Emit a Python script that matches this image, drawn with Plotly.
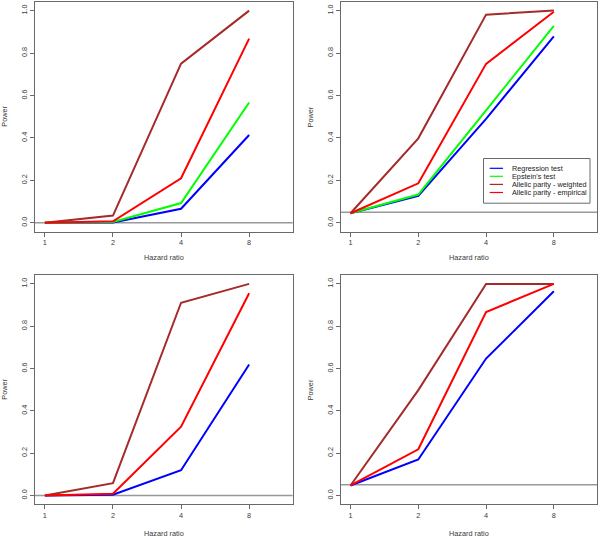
import plotly.graph_objects as go

# ---------------- data ----------------
hazard_ratio = [1, 2, 4, 8]
hazard_ticktext = ["1", "2", "4", "8"]
power_tickvals = [0.0, 0.2, 0.4, 0.6, 0.8, 1.0]
power_ticktext = ["0.0", "0.2", "0.4", "0.6", "0.8", "1.0"]

series_names = ["Regression test", "Epstein's test",
                "Allelic parity - weighted", "Allelic parity - empirical"]
series_colors = ["#0000FF", "#00FF00", "#A52A2A", "#FF0000"]

# panel A (top-left)
a_regression = [0.0, 0.001, 0.066, 0.414]
a_epstein = [0.0, 0.004, 0.093, 0.567]
a_ap_weighted = [0.0, 0.034, 0.750, 1.0]
a_ap_empirical = [0.0, 0.007, 0.210, 0.868]

# panel B (top-right)
b_regression = [0.045, 0.127, 0.490, 0.879]
b_epstein = [0.045, 0.133, 0.530, 0.928]
b_ap_weighted = [0.045, 0.398, 0.981, 1.0]
b_ap_empirical = [0.045, 0.186, 0.749, 0.995]

# panel C (bottom-left)
c_regression = [0.0, 0.003, 0.119, 0.619]
c_ap_weighted = [0.0, 0.058, 0.911, 1.0]
c_ap_empirical = [0.0, 0.008, 0.325, 0.956]

# panel D (bottom-right)
d_regression = [0.047, 0.170, 0.647, 0.965]
d_ap_weighted = [0.047, 0.498, 1.0, 1.0]
d_ap_empirical = [0.047, 0.218, 0.867, 1.0]

reference_levels = [0.0, 0.05, 0.0, 0.05]

panels = [
    [a_regression, a_epstein, a_ap_weighted, a_ap_empirical],
    [b_regression, b_epstein, b_ap_weighted, b_ap_empirical],
    [c_regression, None, c_ap_weighted, c_ap_empirical],
    [d_regression, None, d_ap_weighted, d_ap_empirical],
]

# ---------------- layout helpers ----------------
W, H = 600, 537
FONT = "Liberation Sans, Arial, sans-serif"
TXT = "#3a3a3a"
AXC = "#6a6a6a"
FS = 7.3


def px_x(v):
    return v / W


def px_y(v):
    return 1 - v / H


col_px = [(35, 292.7), (340.7, 597.2)]
row_px = [(1.7, 231.7), (275, 504.3)]
title_dy = [26, 29]

fig = go.Figure()
layout = dict(
    width=W, height=H,
    margin=dict(l=0, r=0, t=0, b=0),
    paper_bgcolor="white", plot_bgcolor="white",
    showlegend=False,
    font=dict(family=FONT, size=FS, color=TXT),
)
shapes, annotations = [], []

for p, series in enumerate(panels):
    r, c = divmod(p, 2)
    idx = "" if p == 0 else str(p + 1)
    xa, ya = "x" + idx, "y" + idx
    for s, vals in enumerate(series):
        if vals is None:
            continue
        fig.add_trace(go.Scatter(
            x=hazard_ratio, y=vals, mode="lines", name=series_names[s],
            line=dict(color=series_colors[s], width=2),
            xaxis=xa, yaxis=ya, hoverinfo="x+y+name"))
    x0, x1 = col_px[c]
    yt, yb = row_px[r]
    layout["xaxis" + idx] = dict(
        domain=[px_x(x0), px_x(x1)], anchor=ya, type="log",
        range=[-0.0437, 1.0957],
        tickmode="array", tickvals=hazard_ratio, ticktext=hazard_ticktext,
        ticks="outside", ticklen=4, tickcolor=AXC, tickwidth=1,
        showline=True, mirror=True, linecolor=AXC, linewidth=1,
        showgrid=False, zeroline=False,
        tickfont=dict(size=FS, color=TXT, family=FONT),
    )
    layout["yaxis" + idx] = dict(
        domain=[px_y(yb), px_y(yt)], anchor=xa,
        range=[-0.042, 1.042],
        tickmode="array", tickvals=power_tickvals, ticktext=power_ticktext,
        ticks="outside", ticklen=4, tickcolor=AXC, tickwidth=1,
        tickangle=-90,
        showline=True, mirror=True, linecolor=AXC, linewidth=1,
        showgrid=False, zeroline=False,
        tickfont=dict(size=FS, color=TXT, family=FONT),
    )
    shapes.append(dict(
        type="line", xref=xa + " domain", yref=ya,
        x0=0, x1=1, y0=reference_levels[p], y1=reference_levels[p],
        line=dict(color="#999999", width=1.5), layer="below"))
    annotations.append(dict(
        text="Hazard ratio", xref="paper", yref="paper",
        x=px_x((x0 + x1) / 2), y=px_y(yb + title_dy[r]),
        xanchor="center", yanchor="middle", showarrow=False,
        font=dict(size=FS, color=TXT, family=FONT)))
    annotations.append(dict(
        text="Power", xref="paper", yref="paper",
        x=px_x(x0 - 30), y=px_y((yt + yb) / 2), textangle=-90,
        xanchor="center", yanchor="middle", showarrow=False,
        font=dict(size=FS, color=TXT, family=FONT)))

# manual compact legend in panel B
lx0, lx1, ly0, ly1 = 483.5, 590, 158.5, 203.2
shapes.append(dict(type="rect", xref="paper", yref="paper",
                   x0=px_x(lx0), x1=px_x(lx1), y0=px_y(ly1), y1=px_y(ly0),
                   line=dict(color=AXC, width=1), fillcolor="white", layer="above"))
row_y = [168.3, 176.3, 184.4, 192.5]
for s, name in enumerate(series_names):
    shapes.append(dict(type="line", xref="paper", yref="paper",
                       x0=px_x(489.7), x1=px_x(503), y0=px_y(row_y[s]), y1=px_y(row_y[s]),
                       line=dict(color=series_colors[s], width=1.2), layer="above"))
    annotations.append(dict(
        text=name, xref="paper", yref="paper",
        x=px_x(510.3), y=px_y(row_y[s]), xanchor="left", yanchor="middle",
        showarrow=False, font=dict(size=FS, color="#222222", family=FONT)))

layout["shapes"] = shapes
layout["annotations"] = annotations
fig.update_layout(**layout)
fig.write_html(
    "out.html",
    config={"displayModeBar": False},
    post_script="document.body.style.margin='0';document.body.style.padding='0';"
                "document.body.style.overflow='hidden';",
)
